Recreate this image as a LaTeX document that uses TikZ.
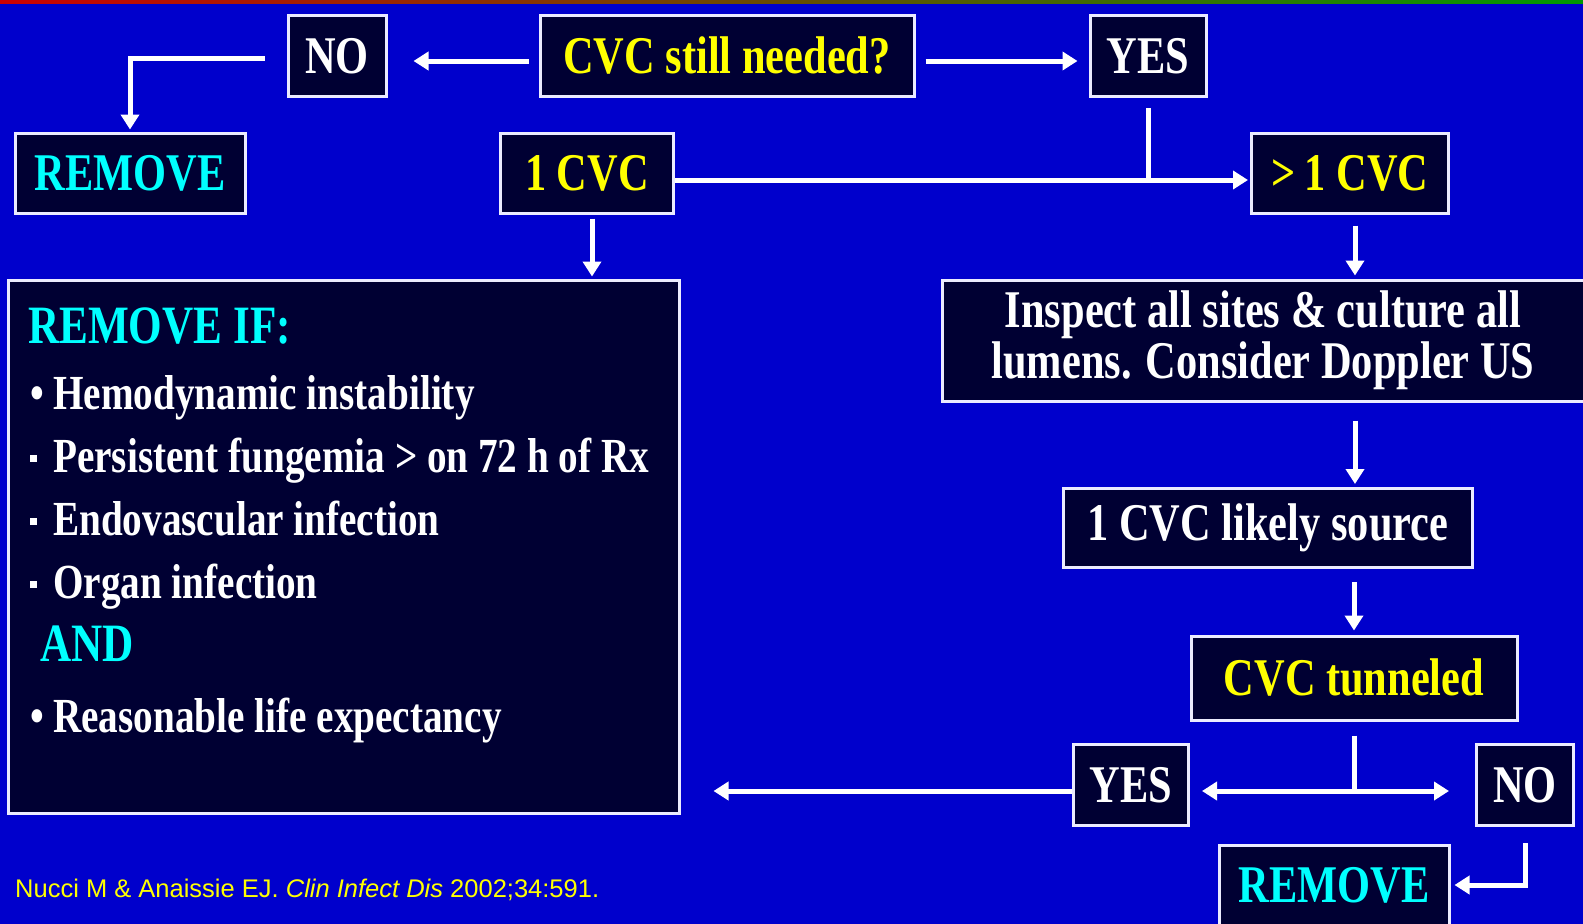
\documentclass[tikz,border=0pt]{standalone}
\usepackage{fontspec}
\setmainfont[FakeStretch=0.8]{Liberation Serif}
\newfontfamily\citefont{Liberation Sans}
\usetikzlibrary{arrows.meta,calc}

\definecolor{slideblue}{HTML}{0000CC}
\definecolor{boxnavy}{HTML}{000033}
\definecolor{txtyellow}{HTML}{FFFF00}
\definecolor{txtcyan}{HTML}{00FFFF}

\newcommand{\rdbul}{\makebox[23pt][l]{\textbullet}}
\newcommand{\sqbul}{\makebox[23pt][l]{\rule[10pt]{7pt}{7pt}}}

\begin{document}
\begin{tikzpicture}[
  x=1pt, y=-1pt,
  box/.style={rectangle, draw=white!92!blue, line width=3pt, fill=boxnavy, inner sep=0pt,
    minimum height=81pt, font=\fontsize{53}{51}\selectfont\bfseries, align=center},
  listline/.style={anchor=base west, inner sep=0pt, text=white, font=\fontsize{49}{49}\selectfont\bfseries},
  arr/.style={draw=white, line width=5pt, -{Triangle[length=15pt,width=18pt]}},
  link/.style={draw=white, line width=5pt}
]
% Slide background
\fill[slideblue] (0,0) rectangle (1583,924);
\shade[left color=red!80!black, right color=green!60!black] (0,0) rectangle (1583,3);
\useasboundingbox (0,0) rectangle (1583,924);

% Top row
\node[box, minimum width=374pt, text=txtyellow] (need) at (727,56) {CVC still needed?};
\node[box, minimum width=98pt, text=white] (noA) at (337,56) {NO};
\node[box, minimum width=116pt, text=white] (yesA) at (1148,56) {YES};

% Second row
\node[box, minimum width=230pt, minimum height=80pt, text=txtcyan] (remA) at (130,173) {REMOVE};
\node[box, minimum width=173pt, minimum height=80pt, text=txtyellow] (one) at (587,173) {1 CVC};
\node[box, minimum width=197pt, minimum height=80pt, text=txtyellow] (many) at (1350,173) {{>}\,1 CVC};

% Removal criteria
\node[box, minimum width=671pt, minimum height=533pt] (cond) at (343.5,546.5) {};
\node[listline, text=txtcyan, font=\fontsize{54}{54}\selectfont\bfseries] (condHead) at (28,343) {REMOVE IF:};
\node[listline] (condA) at (30,409) {\rdbul Hemodynamic instability};
\node[listline] (condB) at (30,472) {\sqbul Persistent fungemia {>} on 72 h of Rx};
\node[listline] (condC) at (30,535) {\sqbul Endovascular infection};
\node[listline] (condD) at (30,598) {\sqbul Organ infection};
\node[listline, text=txtcyan, font=\fontsize{54}{54}\selectfont\bfseries] (condAnd) at (40,661) {AND};
\node[listline] (condE) at (30,732) {\rdbul Reasonable life expectancy};

% Right branch
\node[box, minimum width=642pt, minimum height=121pt, text=white] (inspect) at (1263,340.5)
  {Inspect all sites \& culture all\\lumens. Consider Doppler US};
\node[box, minimum width=409pt, minimum height=79pt, text=white] (likely) at (1268,528) {1 CVC likely source};
\node[box, minimum width=326pt, minimum height=84pt, text=txtyellow] (tunnel) at (1354,678) {CVC tunneled};
\node[box, minimum width=115pt, text=white] (yesB) at (1131,785) {YES};
\node[box, minimum width=97pt, text=white] (noB) at (1525,785) {NO};
\node[box, minimum width=230pt, minimum height=80pt, text=txtcyan] (remB) at (1334,885) {REMOVE};

% Reference
\node[anchor=base west, inner sep=0pt, text=txtyellow, font=\citefont\fontsize{25.5}{25.5}\selectfont] (cite) at (15,897)
  {Nucci M \& Anaissie EJ. \textit{Clin Infect Dis} 2002;34:591.};

% Connectors, top
\draw[arr, shorten <=10pt, shorten >=26pt] ($(need.west)+(0,5)$) -- ($(noA.east)+(0,5)$);
\draw[arr, shorten >=2pt] ($(noA.west)+(-22,2)$) -| (remA.north);
\draw[arr, shorten <=10pt, shorten >=11pt] ($(need.east)+(0,5)$) -- ($(yesA.west)+(0,5)$);
\coordinate (jA) at ($(one.east -| yesA.south)+(0,7)$);
\draw[link, shorten <=10pt] (yesA.south) -- (jA);
\draw[arr, shorten >=2pt] ($(one.east)+(0,7)$) -- ($(many.west)+(0,7)$);
\draw[arr, shorten <=4pt, shorten >=2pt] ($(one.south)+(5,0)$) -- ($(one.south |- cond.north)+(5,0)$);

% Connectors, right branch
\draw[arr, shorten <=11pt, shorten >=3pt] ($(many.south)+(5,0)$) -- ($(many.south |- inspect.north)+(5,0)$);
\draw[arr, shorten <=18pt, shorten >=3pt] ($(inspect.south -| many.south)+(5,0)$) -- ($(likely.north -| many.south)+(5,0)$);
\draw[arr, shorten <=13pt, shorten >=4pt] (tunnel.north |- likely.south) -- (tunnel.north);
\coordinate (jB) at ($(tunnel.south |- yesB.east)+(0,6)$);
\draw[link, shorten <=14pt] (tunnel.south) -- (jB);
\draw[arr, shorten >=12pt] (jB) -- ($(yesB.east)+(0,6)$);
\draw[arr, shorten >=26pt] (jB) -- ($(noB.west)+(0,6)$);
\draw[arr, shorten >=33pt] ($(yesB.west)+(0,6)$) -- ($(cond.east |- yesB.west)+(0,6)$);
\draw[arr, shorten <=16pt, shorten >=4pt] (noB.south) |- (remB.east);
\end{tikzpicture}
\end{document}
